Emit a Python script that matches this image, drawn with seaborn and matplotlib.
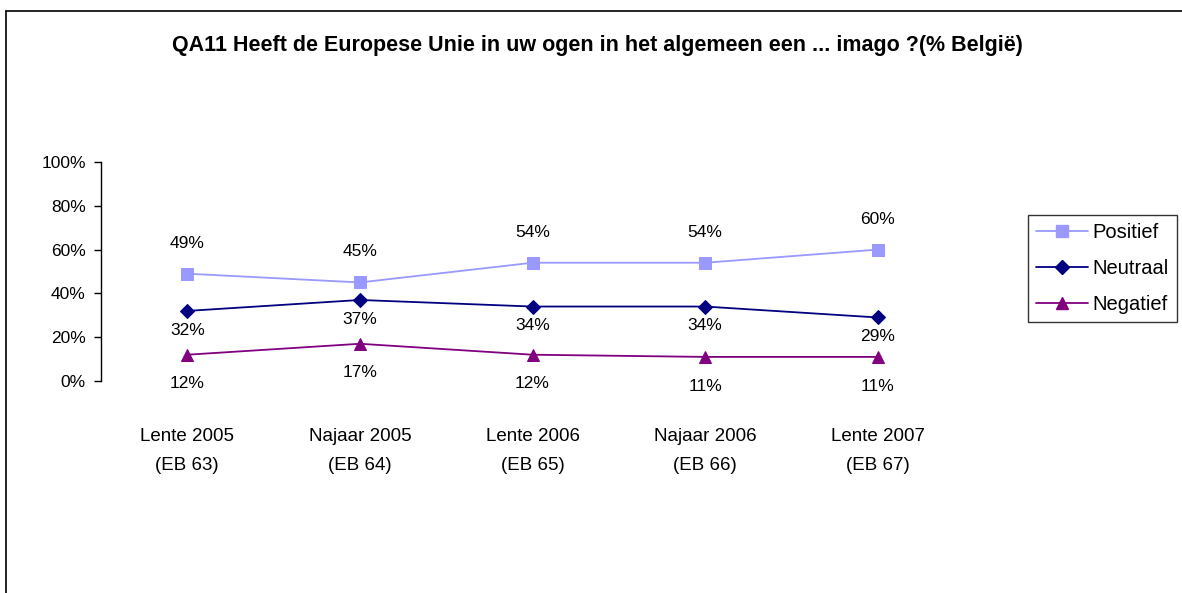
import pandas as pd
import matplotlib.pyplot as plt
import seaborn as sns
from matplotlib.lines import Line2D

categories = ['Lente 2005\n(EB 63)', 'Najaar 2005\n(EB 64)', 'Lente 2006\n(EB 65)',
              'Najaar 2006\n(EB 66)', 'Lente 2007\n(EB 67)']
positief = [49, 45, 54, 54, 60]
neutraal = [32, 37, 34, 34, 29]
negatief = [12, 17, 12, 11, 11]

series = ['Positief', 'Neutraal', 'Negatief']
colors = {'Positief': '#9999FF', 'Neutraal': '#000080', 'Negatief': '#800080'}
markers = {'Positief': 's', 'Neutraal': 'D', 'Negatief': '^'}
msize = {'Positief': 8, 'Neutraal': 7.5, 'Negatief': 9}
# label offset in points (positive = above)
offsets = {'Positief': 22, 'Neutraal': -14, 'Negatief': -21}

sns.set_style('white')
plt.rcParams['font.family'] = ['Liberation Sans', 'DejaVu Sans']
plt.rcParams['text.color'] = 'black'
plt.rcParams['xtick.color'] = 'black'
plt.rcParams['ytick.color'] = 'black'

df = pd.DataFrame({
    'x': list(range(len(categories))) * 3,
    'waarde': positief + neutraal + negatief,
    'reeks': [s for s in series for _ in categories],
})

fig = plt.figure(figsize=(11.82, 5.93), dpi=100)
ax = fig.add_axes([101 / 1182, 1 - 381 / 593, (964 - 101) / 1182, (381 - 162) / 593])

for s in series:
    d = df[df['reeks'] == s]
    sns.lineplot(data=d, x='x', y='waarde', color=colors[s], marker=markers[s],
                 markersize=msize[s], markeredgecolor=colors[s], linewidth=1.3,
                 ax=ax, legend=False)
    for xv, yv in zip(d['x'], d['waarde']):
        ax.annotate(f'{yv}%', (xv, yv), xytext=(0, offsets[s]), textcoords='offset points',
                    ha='center', va='center', fontsize=12.5, color='black')

ax.set_xlim(-0.5, 4.5)
ax.set_ylim(0, 100)
ax.set_yticks([0, 20, 40, 60, 80, 100])
ax.set_yticklabels([f'{v}%' for v in range(0, 101, 20)], fontsize=12.5)
ax.set_xticks(range(len(categories)))
ax.set_xticklabels(categories, fontsize=13.5, linespacing=1.9)
ax.tick_params(axis='x', length=0, pad=34)
ax.tick_params(axis='y', length=5, width=1, color='black', direction='out', left=True, pad=6)
ax.set_xlabel('')
ax.set_ylabel('')
for side in ['top', 'right', 'bottom']:
    ax.spines[side].set_visible(False)
ax.spines['left'].set_color('black')
ax.spines['left'].set_linewidth(1)

handles = [Line2D([0], [0], color=colors[s], marker=markers[s], markersize=msize[s],
                  linewidth=1.3, markeredgecolor=colors[s]) for s in series]
leg = fig.legend(handles, series, loc='upper left', bbox_to_anchor=(1028 / 1182, 1 - 215 / 593),
                 frameon=True, fancybox=False, edgecolor='black', fontsize=14.5,
                 handlelength=2.6, borderpad=0.4, labelspacing=0.85, handletextpad=0.2,
                 borderaxespad=0)
leg.get_frame().set_linewidth(1)

fig.text(597 / 1182, 1 - 45 / 593,
         'QA11 Heeft de Europese Unie in uw ogen in het algemeen een ... imago ?(% België)',
         ha='center', va='center', fontsize=15.5, fontweight='bold')

# chart area border (top and left visible)
fig.add_artist(Line2D([6 / 1182, 6 / 1182], [0, 1 - 11 / 593], color='black', linewidth=1.2,
                      transform=fig.transFigure))
fig.add_artist(Line2D([6 / 1182, 1], [1 - 11 / 593, 1 - 11 / 593], color='black', linewidth=1.2,
                      transform=fig.transFigure))

fig.savefig('out.png', dpi=100)
